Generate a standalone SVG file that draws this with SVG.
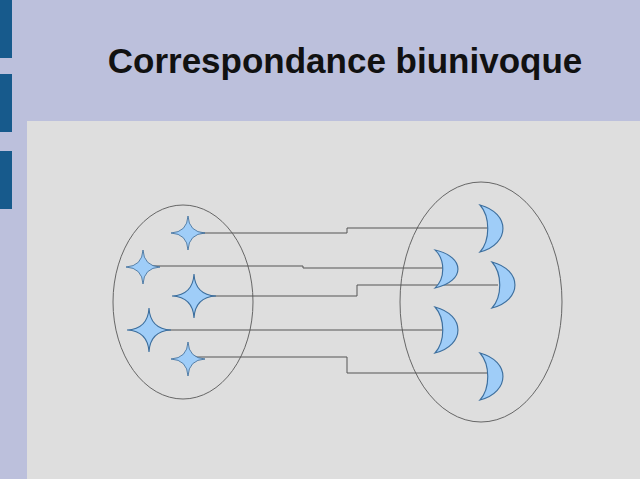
<svg xmlns="http://www.w3.org/2000/svg" width="640" height="479" viewBox="0 0 640 479">
<style>
.star,.moon{fill:#9fcdf8;stroke:#3d6f9e;stroke-width:0.05}
.set{fill:none;stroke:#666;stroke-width:1}
.conn{fill:none;stroke:#555;stroke-width:1}
.tab{fill:#175a8c}
</style>
<defs>
<path id="s" d="M0,-1 Q0.05,-0.05 1,0 Q0.05,0.05 0,1 Q-0.05,0.05 -1,0 Q-0.05,-0.05 0,-1Z"/>
<path id="m" d="M0,-1 C1.33,-0.65 1.33,0.65 0,1 C0.45,0.5 0.45,-0.5 0,-1Z"/>
</defs>
<rect width="640" height="479" fill="#bcc0dc"/>
<rect x="27" y="121" width="613" height="358" fill="#dedede"/>
<rect class="tab" x="0" y="0" width="12" height="58"/>
<rect class="tab" x="0" y="74" width="12" height="58"/>
<rect class="tab" x="0" y="151" width="12" height="58"/>
<text x="345" y="73" text-anchor="middle" font-family="Liberation Sans, Arial, sans-serif" font-weight="bold" font-size="35" fill="#111">Correspondance biunivoque</text>
<g id="setA"><ellipse class="set" cx="183" cy="302" rx="70" ry="97"/></g>
<g id="setB"><ellipse class="set" cx="481" cy="302" rx="81" ry="120"/></g>
<g id="connectors">
<polyline class="conn" points="188,233 347,233 347,228 490,228"/>
<polyline class="conn" points="143,266 303,266 303,268 447,268"/>
<polyline class="conn" points="194,296 357,296 357,285 498,285"/>
<polyline class="conn" points="149,330 447,330"/>
<polyline class="conn" points="188,357 347,357 347,373 490,373"/>
</g>
<g id="star1"><use href="#s" class="star" transform="translate(188,233) scale(17)"/></g>
<g id="star2"><use href="#s" class="star" transform="translate(143,267) scale(17)"/></g>
<g id="star3"><use href="#s" class="star" transform="translate(194,296) scale(22)"/></g>
<g id="star4"><use href="#s" class="star" transform="translate(149,330) scale(22)"/></g>
<g id="star5"><use href="#s" class="star" transform="translate(188,359) scale(17)"/></g>
<g id="moon1"><use href="#m" class="moon" transform="translate(480,228.5) scale(23,23.5)"/></g>
<g id="moon2"><use href="#m" class="moon" transform="translate(435,269) scale(23,19)"/></g>
<g id="moon3"><use href="#m" class="moon" transform="translate(492,285) scale(23,23)"/></g>
<g id="moon4"><use href="#m" class="moon" transform="translate(435,330) scale(23,23)"/></g>
<g id="moon5"><use href="#m" class="moon" transform="translate(480,376.5) scale(23,23.5)"/></g>
</svg>
